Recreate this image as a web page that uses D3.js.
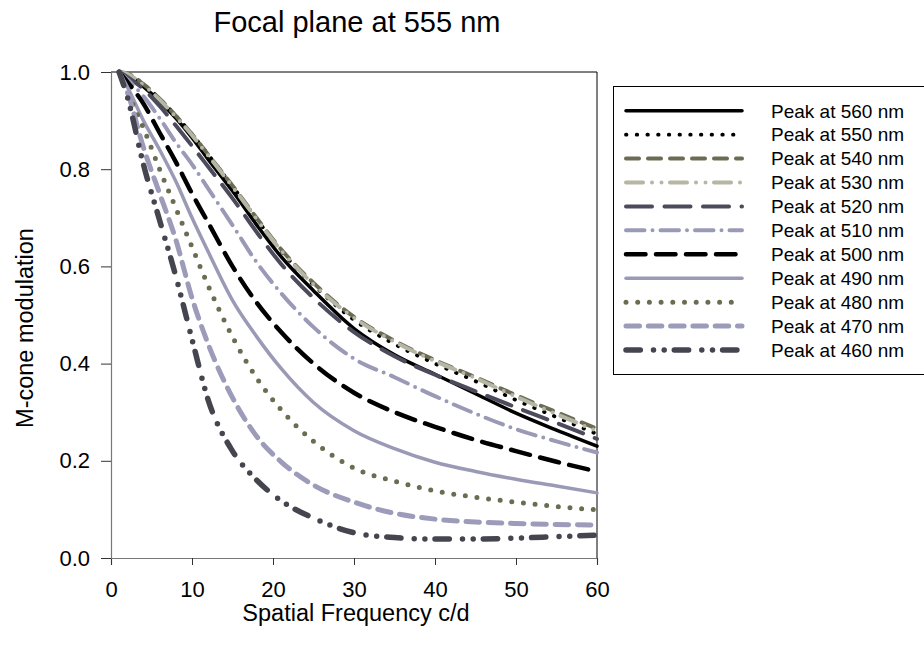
<!DOCTYPE html>
<html>
<head>
<meta charset="utf-8">
<script src="https://cdn.jsdelivr.net/npm/d3@7"></script>
<style>
    body { margin: 0; background: #fff; }
    svg { display: block; font-family: 'Liberation Sans', Arial, sans-serif; }
</style>
</head>
<body>
<svg id="chart" width="924" height="654"></svg>
<script>

// spatial frequency (c/d) where curves were read
var freqs = [1, 2, 4, 6, 8, 10, 12, 15, 18, 21, 25, 30, 35, 40, 45, 50, 55, 60];

var peakLabels = ['Peak at 560 nm', 'Peak at 550 nm', 'Peak at 540 nm', 'Peak at 530 nm',
    'Peak at 520 nm', 'Peak at 510 nm', 'Peak at 500 nm', 'Peak at 490 nm',
    'Peak at 480 nm', 'Peak at 470 nm', 'Peak at 460 nm'];

var peak560 = [1.0, 0.995, 0.97, 0.94, 0.905, 0.865, 0.82, 0.755, 0.685, 0.62, 0.55, 0.472, 0.418, 0.378, 0.338, 0.298, 0.263, 0.23];
var peak550 = [1.0, 0.997, 0.975, 0.945, 0.91, 0.872, 0.83, 0.765, 0.697, 0.632, 0.562, 0.49, 0.44, 0.4, 0.364, 0.325, 0.29, 0.255];
var peak540 = [1.0, 0.997, 0.975, 0.945, 0.91, 0.872, 0.83, 0.766, 0.699, 0.635, 0.566, 0.496, 0.447, 0.407, 0.372, 0.335, 0.3, 0.266];
var peak530 = [1.0, 0.996, 0.973, 0.943, 0.908, 0.87, 0.828, 0.764, 0.697, 0.633, 0.563, 0.494, 0.445, 0.405, 0.37, 0.332, 0.296, 0.261];
var peak520 = [1.0, 0.99, 0.965, 0.93, 0.89, 0.848, 0.805, 0.74, 0.67, 0.605, 0.535, 0.465, 0.415, 0.377, 0.343, 0.31, 0.278, 0.245];
var peak510 = [1.0, 0.985, 0.95, 0.905, 0.855, 0.81, 0.76, 0.685, 0.608, 0.545, 0.475, 0.41, 0.372, 0.333, 0.297, 0.265, 0.24, 0.217];
var peak500 = [1.0, 0.98, 0.935, 0.875, 0.815, 0.75, 0.69, 0.6, 0.525, 0.465, 0.4, 0.34, 0.3, 0.27, 0.243, 0.22, 0.198, 0.178];
var peak490 = [1.0, 0.97, 0.9, 0.84, 0.775, 0.7, 0.63, 0.53, 0.455, 0.39, 0.32, 0.262, 0.225, 0.197, 0.178, 0.162, 0.148, 0.134];
var peak480 = [1.0, 0.96, 0.885, 0.8, 0.72, 0.64, 0.56, 0.455, 0.37, 0.305, 0.24, 0.185, 0.158, 0.138, 0.125, 0.115, 0.106, 0.099];
var peak470 = [1.0, 0.96, 0.845, 0.75, 0.655, 0.535, 0.44, 0.33, 0.25, 0.198, 0.15, 0.115, 0.092, 0.08, 0.074, 0.071, 0.069, 0.068];
var peak460 = [1.0, 0.95, 0.81, 0.695, 0.58, 0.45, 0.325, 0.22, 0.16, 0.118, 0.082, 0.052, 0.042, 0.039, 0.039, 0.041, 0.044, 0.047];

var xTicks = [0, 10, 20, 30, 40, 50, 60];
var yTicks = [0, 0.2, 0.4, 0.6, 0.8, 1.0];

// line styles, same order as peakLabels
var colors = ['#000000', '#000000', '#6c6c56', '#b6b6a4', '#4b4b5b', '#9a9ab6',
    '#000000', '#9a9ab6', '#6c6c52', '#9c9cba', '#45454f'];
var dashes = ['none', '0.5 10.2', '13 9', '17 9 0 9.5 0 8.5', '26 12.5', '18.5 8 0 8',
    '19.5 10.5', 'none', '0 11.7', '13.5 8.8', '14.3 13.2 0 10.7 0 10.1'];
var widths = [3.5, 3.8, 4, 4, 4, 4, 4.5, 3.5, 5, 5, 5.5];

var values = [peak560, peak550, peak540, peak530, peak520, peak510,
    peak500, peak490, peak480, peak470, peak460];

var drawChart = function () {

    var svg = d3.select('#chart'),
        left = 111,
        right = 597,
        top = 72,
        bottom = 558;

    var x = d3.scaleLinear().domain([0, 60]).range([left, right]);
    var y = d3.scaleLinear().domain([0, 1]).range([bottom, top]);

    // plot frame (top and right in black)
    svg.append('path')
        .attr('d', 'M' + left + ',' + top + 'H' + right + 'V' + bottom)
        .attr('fill', 'none')
        .attr('stroke', '#000')
        .attr('stroke-width', 1);

    var xAxis = svg.append('g')
        .attr('transform', 'translate(0,' + bottom + ')')
        .call(d3.axisBottom(x).tickValues(xTicks).tickSize(7).tickPadding(16).tickFormat(d3.format('d')));

    var yAxis = svg.append('g')
        .attr('transform', 'translate(' + left + ',0)')
        .call(d3.axisLeft(y).tickValues(yTicks).tickSize(10).tickPadding(11).tickFormat(d3.format('.1f')));

    [xAxis, yAxis].forEach(function (a) {
        a.select('.domain').attr('stroke', '#777').attr('stroke-width', 1.2);
        a.selectAll('.tick line').attr('stroke', '#333');
        a.selectAll('.tick text')
            .attr('font-family', "'Liberation Sans', Arial, sans-serif")
            .attr('font-size', 22)
            .attr('fill', '#000');
    });

    var line = d3.line()
        .x(function (d) { return x(d[0]); })
        .y(function (d) { return y(d[1]); })
        .curve(d3.curveMonotoneX);

    svg.append('g')
        .selectAll('path')
        .data(values)
        .enter().append('path')
        .attr('d', function (v) {
            return line(freqs.map(function (f, i) { return [f, v[i]]; }));
        })
        .attr('fill', 'none')
        .attr('stroke', function (d, i) { return colors[i]; })
        .attr('stroke-width', function (d, i) { return widths[i]; })
        .attr('stroke-dasharray', function (d, i) { return dashes[i]; })
        .attr('stroke-linecap', 'round')
        .attr('stroke-linejoin', 'round');

    // titles
    svg.append('text')
        .attr('x', 357)
        .attr('y', 32)
        .attr('text-anchor', 'middle')
        .attr('font-size', 29)
        .text('Focal plane at 555 nm');

    svg.append('text')
        .attr('x', 356)
        .attr('y', 621)
        .attr('text-anchor', 'middle')
        .attr('font-size', 23.5)
        .text('Spatial Frequency c/d');

    svg.append('text')
        .attr('transform', 'translate(33,' + 328 + ') rotate(-90)')
        .attr('text-anchor', 'middle')
        .attr('font-size', 23.5)
        .text('M-cone modulation');

    // legend
    var legend = svg.append('g');

    legend.append('rect')
        .attr('x', 613.5)
        .attr('y', 86.5)
        .attr('width', 330)
        .attr('height', 288)
        .attr('fill', '#fff')
        .attr('stroke', '#000')
        .attr('stroke-width', 1);

    var item = legend.selectAll('.legend')
        .data(peakLabels)
        .enter().append('g')
        .attr('class', 'legend')
        .attr('transform', function (d, i) {
            return 'translate(0,' + (110.7 + i * 23.93) + ')';
        });

    item.append('line')
        .attr('x1', 626)
        .attr('x2', 742)
        .attr('stroke', function (d, i) { return colors[i]; })
        .attr('stroke-width', function (d, i) { return widths[i]; })
        .attr('stroke-dasharray', function (d, i) { return dashes[i]; })
        .attr('stroke-linecap', 'round');

    item.append('text')
        .attr('x', 771)
        .attr('y', 6.8)
        .attr('font-size', 19)
        .text(function (d) { return d; });

};

drawChart();

</script>
</body>
</html>
